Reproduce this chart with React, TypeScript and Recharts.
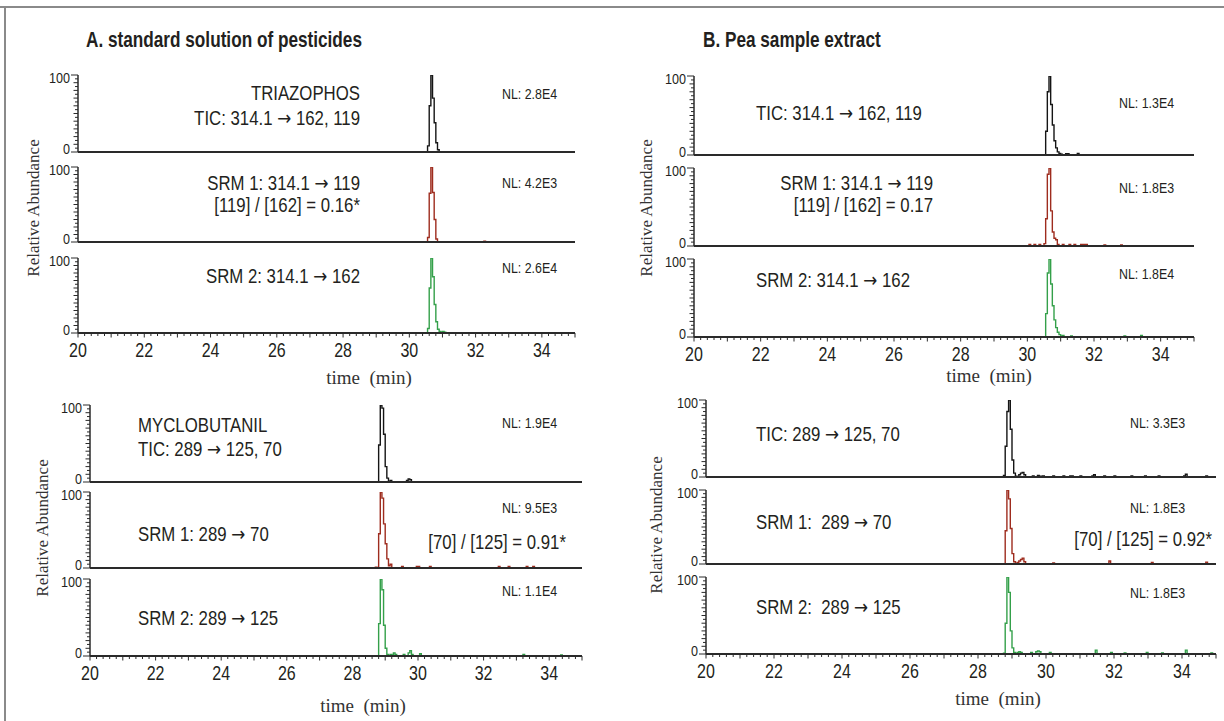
import React from 'react';
import { LineChart, Line, XAxis, YAxis } from 'recharts';

// ---------- Panel A (standard) : triazophos ----------
const A1_TIC_T = [26.0, 30.5, 30.55, 30.6, 30.65, 30.7, 30.75, 30.8, 30.85, 30.9, 35.0];
const A1_TIC_V = [0, 0, 8, 60, 100, 70, 38, 12, 3, 0, 0];
const A1_SRM1_T = [26.0, 30.5, 30.55, 30.6, 30.65, 30.7, 30.75, 30.8, 30.85, 32.25, 32.3, 35.0];
const A1_SRM1_V = [0, 0, 6, 65, 100, 66, 30, 4, 0, 1, 0, 0];
const A1_SRM2_T = [30.45, 30.5, 30.55, 30.6, 30.65, 30.7, 30.75, 30.8, 30.85, 30.9, 30.95, 31.0, 31.05, 31.1, 31.2];
const A1_SRM2_V = [0, 0, 6, 60, 100, 75, 38, 15, 5, 2, 1, 2, 1, 0, 0];

// ---------- Panel B (pea extract) : triazophos ----------
const B1_TIC_T = [30.4, 30.5, 30.55, 30.6, 30.65, 30.7, 30.75, 30.8, 30.85, 30.9, 30.95, 31.0, 31.05, 31.15, 31.2, 31.25, 31.45, 31.5, 31.55];
const B1_TIC_V = [0, 0, 30, 80, 100, 64, 38, 18, 9, 4, 2, 1, 0, 1.5, 1.5, 0, 0, 2, 0];
const B1_SRM1_T = [30.0, 30.05, 30.1, 30.2, 30.25, 30.35, 30.4, 30.5, 30.55, 30.6, 30.65, 30.7, 30.75, 30.8, 30.85, 30.9, 30.95, 31.05, 31.1, 31.25, 31.3, 31.4, 31.45, 31.6, 31.7, 31.8, 31.9, 32.3, 32.35, 32.8, 32.85];
const B1_SRM1_V = [0, 2, 0, 2, 0, 2, 0, 3, 35, 92, 100, 45, 18, 10, 8, 2, 0, 2, 0, 2, 0, 2, 0, 2, 2, 0, 0, 1.5, 0, 1.5, 0];
const B1_SRM2_T = [30.45, 30.5, 30.55, 30.6, 30.65, 30.7, 30.75, 30.8, 30.85, 30.9, 30.95, 31.0, 31.05, 31.1, 31.3, 31.35, 32.9, 32.95, 33.4, 33.45];
const B1_SRM2_V = [0, 0, 30, 82, 100, 68, 40, 22, 12, 6, 3, 1, 2, 0, 1.5, 0, 1.5, 0, 2, 0];

// ---------- Panel A (standard) : myclobutanil ----------
const A2_TIC_T = [28.4, 28.75, 28.8, 28.85, 28.9, 28.95, 29.0, 29.05, 29.1, 29.15, 29.2, 29.25, 29.6, 29.65, 29.7, 29.75, 29.8, 29.85];
const A2_TIC_V = [0, 0, 48, 100, 96, 62, 20, 5, 0, 2, 0, 0, 0, 2, 4, 3, 0, 0];
const A2_SRM1_T = [28.65, 28.7, 28.75, 28.8, 28.85, 28.9, 28.95, 29.0, 29.05, 29.1, 29.15, 29.2, 29.5, 29.55, 29.95, 30.0, 30.05, 30.35, 30.4, 32.45, 32.5, 32.75, 32.8, 33.3, 33.35, 33.5, 33.55];
const A2_SRM1_V = [0, 1, 0, 45, 100, 92, 58, 32, 12, 3, 5, 0, 2, 0, 2, 2, 0, 2, 0, 2, 0, 2, 0, 2, 0, 2, 0];
const A2_SRM2_T = [28.75, 28.8, 28.85, 28.9, 28.95, 29.0, 29.05, 29.1, 29.15, 29.2, 29.25, 29.3, 29.35, 29.55, 29.6, 29.7, 29.75, 29.8, 29.85, 30.05, 30.1, 33.2, 33.25, 34.35, 34.4];
const A2_SRM2_V = [0, 42, 100, 86, 40, 10, 2, 0, 2, 1, 4, 2, 0, 2, 0, 4, 7, 2, 0, 3, 0, 2, 0, 1.5, 0];

// ---------- Panel B (pea extract) : myclobutanil ----------
const B2_TIC_T = [28.7, 28.75, 28.8, 28.85, 28.9, 28.95, 29.0, 29.05, 29.1, 29.15, 29.2, 29.25, 29.3, 29.35, 29.4, 29.6, 29.65, 29.75, 29.8, 29.9, 29.95, 30.2, 30.25, 30.5, 30.55, 30.7, 30.8, 31.0, 31.05, 31.35, 31.4, 31.45, 31.7, 31.75, 32.0, 32.05, 32.5, 32.55, 32.9, 32.95, 33.3, 33.35, 34.05, 34.1, 34.15, 34.7, 34.75];
const B2_TIC_V = [0, 2, 40, 85, 100, 62, 22, 5, 1, 0, 3, 5, 6, 3, 0, 1.5, 0, 2, 1, 1.5, 0, 1.5, 0, 1.5, 0, 1.5, 0, 1.5, 0, 1.5, 3, 0, 1.5, 0, 1.5, 0, 1.5, 0, 1.5, 0, 1.5, 0, 1.5, 3.5, 0, 1.5, 0];
const B2_SRM1_T = [26.0, 28.75, 28.8, 28.85, 28.9, 28.95, 29.0, 29.05, 29.1, 29.15, 29.2, 29.25, 29.3, 29.35, 29.4, 30.15, 30.2, 30.25, 31.8, 31.85, 31.9, 33.05, 33.1, 33.15, 34.65, 34.7, 34.75, 35.0];
const B2_SRM1_V = [0, 0, 45, 100, 88, 48, 14, 3, 0, 2, 4, 6, 8, 3, 0, 0, 1.5, 0, 0, 4, 0, 0, 2, 0, 0, 2.5, 0, 0];
const B2_SRM2_T = [28.7, 28.75, 28.8, 28.85, 28.9, 28.95, 29.0, 29.05, 29.1, 29.15, 29.2, 29.25, 29.3, 29.5, 29.55, 29.6, 29.7, 29.75, 29.8, 29.85, 30.05, 30.1, 30.15, 31.4, 31.45, 31.5, 31.85, 31.9, 31.95, 32.25, 32.3, 32.35, 32.9, 32.95, 33.0, 33.35, 33.4, 33.45, 34.05, 34.1, 34.15, 34.8, 34.85, 34.9];
const B2_SRM2_V = [0, 1, 40, 100, 80, 30, 8, 2, 0, 2, 3, 2, 0, 0, 2, 0, 3, 4, 3, 0, 0, 2, 0, 0, 5, 0, 0, 2, 0, 0, 1.5, 0, 0, 2, 0, 0, 1.5, 0, 0, 5, 0, 0, 1.5, 0];

// ---------- axes ----------
const X_DOMAIN = [20, 35];
const X_LABELS = [20, 22, 24, 26, 28, 30, 32, 34];
const Y_LABELS = [0, 100];
const X_TICKS = Array.from({ length: 76 }, (_, i) => Math.round((20 + i * 0.2) * 10) / 10);
const Y_TICKS = Array.from({ length: 21 }, (_, i) => i * 5);

type Pt = { t: number; v: number };
const zip = (t: number[], v: number[]): Pt[] => t.map((tt, i) => ({ t: tt, v: v[i] ?? 0 }));

const SANS = "'Liberation Sans', Arial, Helvetica, sans-serif";
const ARROW_FONT = "'DejaVu Sans', sans-serif";
const SERIF = "'Liberation Serif', 'Times New Roman', serif";
const INK = '#231f20';
const AXIS = '#2a2a2a';
const C_BLACK = '#151515';
const C_RED = '#9e2c1e';
const C_GREEN = '#34a04a';

function withArrows(s: string) {
  const parts = s.split('→');
  const out: React.ReactNode[] = [];
  parts.forEach((p, i) => {
    if (i > 0) out.push(<tspan key={`a${i}`} fontFamily={ARROW_FONT}>→</tspan>);
    out.push(<tspan key={`t${i}`}>{p}</tspan>);
  });
  return out;
}

function CText(props: { x: number; y: number; size: number; anchor?: string; bold?: boolean; sx?: number; children: string; fill?: string }) {
  const { x, y, size, anchor = 'start', bold = false, sx = 0.8, children, fill = INK } = props;
  return (
    <text transform={`translate(${x},${y}) scale(${sx},1)`} x={0} y={0} fontFamily={SANS} fontSize={size}
      fontWeight={bold ? 700 : 400} textAnchor={anchor as any} dominantBaseline="central" fill={fill}>
      {children.includes('→') ? withArrows(children) : children}
    </text>
  );
}

const YW = 48;
const MT = 12;
const MR = 6;

function YTick(p: any) {
  const { y, payload, axisX } = p;
  const v = payload.value;
  const major = Y_LABELS.includes(v);
  const len = major ? 7 : v % 10 === 0 ? 4.5 : 3;
  return (
    <g>
      <line x1={axisX - len} x2={axisX} y1={y} y2={y} stroke={AXIS} strokeWidth={1} />
      {major && <CText x={axisX - 8} y={v === 0 ? y - 3 : y + 3} size={14} sx={0.9} anchor="end">{String(v)}</CText>}
    </g>
  );
}

function XTick(p: any) {
  const { x, payload, axisY } = p;
  const v = payload.value;
  const isInt = Math.abs(v - Math.round(v)) < 1e-6;
  const len = isInt ? 4.5 : 3;
  return (
    <g>
      <line x1={x} x2={x} y1={axisY} y2={axisY + len} stroke={AXIS} strokeWidth={1} />
      {isInt && X_LABELS.includes(Math.round(v)) && <CText x={x} y={axisY + 17} size={20} anchor="middle">{String(Math.round(v))}</CText>}
    </g>
  );
}

function Sub(props: { x20: number; x35: number; y100: number; y0: number; data: Pt[]; color: string; bottom: boolean }) {
  const { x20, x35, y100, y0, data, color, bottom } = props;
  const xh = bottom ? 34 : 12;
  const plotW = x35 - x20;
  const plotH = y0 - y100;
  const w = YW + plotW + MR;
  const h = MT + plotH + xh;
  const axisY = MT + plotH;
  return (
    <div style={{ position: 'absolute', left: x20 - YW, top: y100 - MT, width: w, height: h }}>
      <LineChart width={w} height={h} data={data} margin={{ top: MT, right: MR, bottom: 0, left: 0 }}>
        <XAxis type="number" dataKey="t" domain={X_DOMAIN} allowDataOverflow ticks={bottom ? X_TICKS : []} interval={0}
          tick={bottom ? (tp: any) => <XTick {...tp} axisY={axisY} /> : false} tickLine={false}
          axisLine={{ stroke: AXIS, strokeWidth: 2 }} height={xh} />
        <YAxis type="number" domain={[0, 100]} allowDataOverflow ticks={Y_TICKS} interval={0}
          tick={(tp: any) => <YTick {...tp} axisX={YW} />} tickLine={false}
          axisLine={{ stroke: AXIS, strokeWidth: 1.5 }} width={YW} />
        <Line type="stepAfter" dataKey="v" stroke={color} strokeWidth={1.4} dot={false} isAnimationActive={false} />
      </LineChart>
    </div>
  );
}

const COLORS = [C_BLACK, C_RED, C_GREEN];

const PANELS = [
  { x20: 78, x35: 575, subs: [[75, 152], [167, 242], [258, 333]], traces: [zip(A1_TIC_T, A1_TIC_V), zip(A1_SRM1_T, A1_SRM1_V), zip(A1_SRM2_T, A1_SRM2_V)] },
  { x20: 694, x35: 1194, subs: [[76, 155], [168, 246], [259, 337]], traces: [zip(B1_TIC_T, B1_TIC_V), zip(B1_SRM1_T, B1_SRM1_V), zip(B1_SRM2_T, B1_SRM2_V)] },
  { x20: 90, x35: 582, subs: [[405, 482], [492, 568], [579, 656]], traces: [zip(A2_TIC_T, A2_TIC_V), zip(A2_SRM1_T, A2_SRM1_V), zip(A2_SRM2_T, A2_SRM2_V)] },
  { x20: 706, x35: 1216, subs: [[400, 477], [490, 564], [577, 654]], traces: [zip(B2_TIC_T, B2_TIC_V), zip(B2_SRM1_T, B2_SRM1_V), zip(B2_SRM2_T, B2_SRM2_V)] },
];

const RA = [[33, 208], [646, 208], [42, 528], [656, 525]];
const TM = [[369, 377], [989, 375], [363, 705], [998, 698]];
const AS = 0.84;

export default function App() {
  return (
    <div style={{ position: 'absolute', left: 0, top: 0, width: 1224, height: 721, background: '#fff', overflow: 'hidden' }}>
      {PANELS.map((pn, pi) =>
        pn.subs.map((s, si) => (
          <Sub key={`${pi}-${si}`} x20={pn.x20} x35={pn.x35} y100={s[0]} y0={s[1]} data={pn.traces[si]} color={COLORS[si]} bottom={si === 2} />
        ))
      )}
      <svg width={1224} height={721} style={{ position: 'absolute', left: 0, top: 0, pointerEvents: 'none' }}>
        <line x1={0} x2={1224} y1={7} y2={7} stroke="#8a8a8a" strokeWidth={2} />
        <line x1={5} x2={5} y1={7} y2={721} stroke="#8a8a8a" strokeWidth={2} />

        <CText x={86} y={39} size={21.5} bold>A. standard solution of pesticides</CText>
        <CText x={703} y={39} size={21.5} bold>B. Pea sample extract</CText>

        {RA.map((p, i) => (
          <text key={`ra${i}`} transform={`translate(${p[0]},${p[1]}) rotate(-90)`} fontFamily={SERIF} fontSize={17}
            textAnchor="middle" dominantBaseline="central" fill="#333">Relative Abundance</text>
        ))}
        {TM.map((p, i) => (
          <text key={`tm${i}`} x={p[0]} y={p[1]} fontFamily={SERIF} fontSize={19} textAnchor="middle"
            dominantBaseline="central" fill="#333">{'time\u00A0\u00A0(min)'}</text>
        ))}

        {/* Panel A top */}
        <CText x={360} y={93} size={20} sx={AS} anchor="end">TRIAZOPHOS</CText>
        <CText x={360} y={117} size={20} sx={AS} anchor="end">TIC: 314.1 → 162, 119</CText>
        <CText x={360} y={182} size={20} sx={AS} anchor="end">SRM 1: 314.1 → 119</CText>
        <CText x={360} y={205} size={20} sx={AS} anchor="end">[119] / [162] = 0.16*</CText>
        <CText x={360} y={275} size={20} sx={AS} anchor="end">SRM 2: 314.1 → 162</CText>
        <CText x={502} y={93} size={15.5}>NL: 2.8E4</CText>
        <CText x={502} y={182} size={15.5}>NL: 4.2E3</CText>
        <CText x={502} y={267} size={15.5}>NL: 2.6E4</CText>

        {/* Panel B top */}
        <CText x={756} y={112} size={20} sx={AS}>TIC: 314.1 → 162, 119</CText>
        <CText x={933} y={182} size={20} sx={AS} anchor="end">SRM 1: 314.1 → 119</CText>
        <CText x={933} y={205} size={20} sx={AS} anchor="end">[119] / [162] = 0.17</CText>
        <CText x={756} y={279} size={20} sx={AS}>SRM 2: 314.1 → 162</CText>
        <CText x={1119} y={102} size={15.5}>NL: 1.3E4</CText>
        <CText x={1119} y={187} size={15.5}>NL: 1.8E3</CText>
        <CText x={1119} y={273} size={15.5}>NL: 1.8E4</CText>

        {/* Panel A bottom */}
        <CText x={138} y={425} size={20} sx={AS}>MYCLOBUTANIL</CText>
        <CText x={138} y={448} size={20} sx={AS}>TIC: 289 → 125, 70</CText>
        <CText x={138} y={533} size={20} sx={AS}>SRM 1: 289 → 70</CText>
        <CText x={566} y={542} size={20} sx={AS} anchor="end">[70] / [125] = 0.91*</CText>
        <CText x={138} y={617} size={20} sx={AS}>SRM 2: 289 → 125</CText>
        <CText x={502} y={422} size={15.5}>NL: 1.9E4</CText>
        <CText x={502} y={507} size={15.5}>NL: 9.5E3</CText>
        <CText x={502} y={590} size={15.5}>NL: 1.1E4</CText>

        {/* Panel B bottom */}
        <CText x={756} y={433} size={20} sx={AS}>TIC: 289 → 125, 70</CText>
        <CText x={756} y={521} size={20} sx={AS}>{'SRM 1:\u00A0 289 → 70'}</CText>
        <CText x={1212} y={539} size={20} sx={AS} anchor="end">[70] / [125] = 0.92*</CText>
        <CText x={756} y={606} size={20} sx={AS}>{'SRM 2:\u00A0 289 → 125'}</CText>
        <CText x={1130} y={422} size={15.5}>NL: 3.3E3</CText>
        <CText x={1130} y={507} size={15.5}>NL: 1.8E3</CText>
        <CText x={1130} y={592} size={15.5}>NL: 1.8E3</CText>
      </svg>
    </div>
  );
}
